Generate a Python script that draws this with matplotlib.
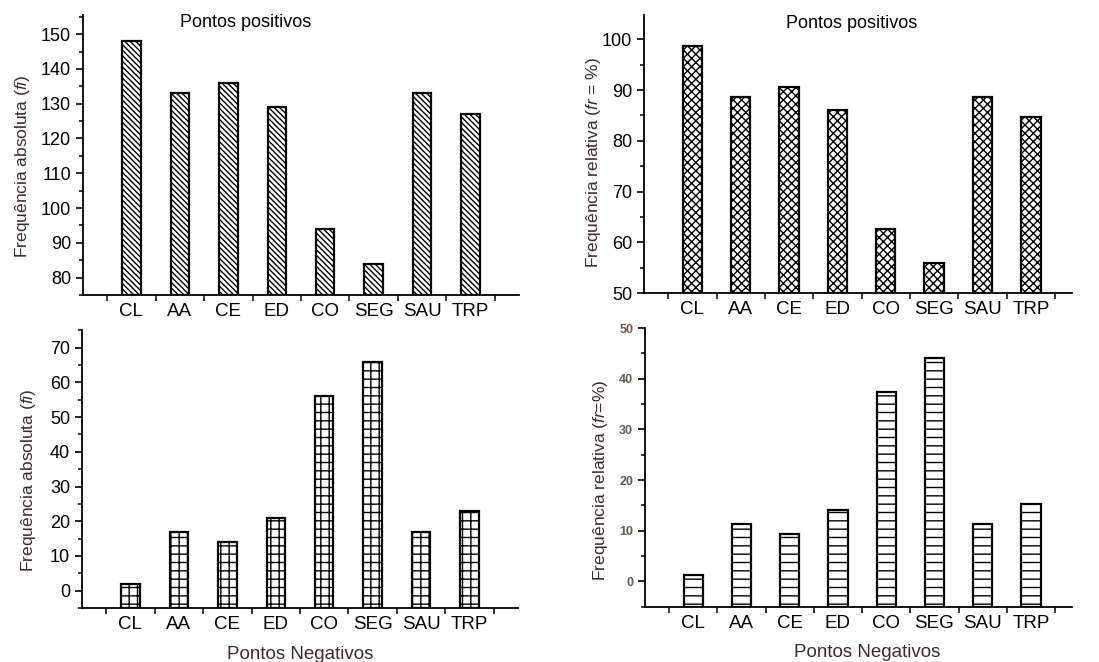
import matplotlib
matplotlib.use('Agg')
import matplotlib.pyplot as plt
from matplotlib.ticker import MultipleLocator, FixedLocator

plt.rcParams['font.family'] = ['Liberation Sans', 'DejaVu Sans']
plt.rcParams['mathtext.fontset'] = 'custom'
plt.rcParams['mathtext.it'] = 'Liberation Sans:italic'
plt.rcParams['mathtext.rm'] = 'Liberation Sans'
plt.rcParams['hatch.linewidth'] = 1.0

categorias = ['CL', 'AA', 'CE', 'ED', 'CO', 'SEG', 'SAU', 'TRP']

# pontos positivos
pos_abs = [148, 133, 136, 129, 94, 84, 133, 127]
pos_rel = [98.7, 88.7, 90.7, 86.0, 62.7, 56.0, 88.7, 84.7]
# pontos negativos
neg_abs = [2, 17, 14, 21, 56, 66, 17, 23]
neg_rel = [1.3, 11.3, 9.3, 14.0, 37.3, 44.0, 11.3, 15.3]

lab_cor = '#3d2b2b'
x = list(range(1, len(categorias) + 1))

fig = plt.figure(figsize=(10.99, 6.62), dpi=100)

def painel(rect, vals, ylim, xmax, hatch, larg, ylabel, lab_xy, major, tick_fs=13,
           tick_cor='black', tick_bold=False):
    ax = fig.add_axes(rect)
    ax.bar(x, [v - ylim[0] for v in vals], bottom=ylim[0], width=larg,
           color='white', edgecolor='black', linewidth=1.6, hatch=hatch)
    ax.set_xlim(0, xmax)
    ax.set_ylim(*ylim)
    ax.spines['top'].set_visible(False)
    ax.spines['right'].set_visible(False)
    ax.spines['left'].set_linewidth(1.3)
    ax.spines['bottom'].set_linewidth(1.3)
    ax.set_xticks(x)
    ax.set_xticklabels(categorias, fontsize=13.5)
    ax.xaxis.set_minor_locator(FixedLocator([i + 0.5 for i in range(0, 9)]))
    ax.tick_params(axis='x', which='major', length=0, pad=6)
    ax.tick_params(axis='x', which='minor', length=4, width=1.1, direction='out')
    ax.yaxis.set_major_locator(MultipleLocator(major))
    ax.yaxis.set_minor_locator(MultipleLocator(major / 2))
    ax.tick_params(axis='y', which='major', length=5, width=1.2, direction='out',
                   labelsize=tick_fs, labelcolor=tick_cor)
    ax.tick_params(axis='y', which='minor', length=3, width=1.1, direction='out')
    if tick_bold:
        for t in ax.get_yticklabels():
            t.set_fontweight('bold')
    ax.set_ylabel(ylabel, fontsize=12.5, color=lab_cor)
    ax.yaxis.set_label_coords(*lab_xy)
    return ax

ax1 = painel([0.0755, 0.5544, 0.3967, 0.4229], pos_abs, (75, 155.5), 9, '\\\\\\\\\\\\', 0.38,
             r'Frequência absoluta ($\mathit{fi}$)', (-0.117, 0.46), 10)
ax1.text(0.372, 0.975, 'Pontos positivos', transform=ax1.transAxes, ha='center',
         va='center', fontsize=13)

ax2 = painel([0.586, 0.5574, 0.3894, 0.4199], pos_rel, (50, 104.8), 8.85, 'xxxx', 0.4,
             r'Frequência relativa ($\mathit{fr}$ = %)', (-0.096, 0.468), 10)
ax2.text(0.486, 0.971, 'Pontos positivos', transform=ax2.transAxes, ha='center',
         va='center', fontsize=13)

ax3 = painel([0.0746, 0.0816, 0.3967, 0.4199], neg_abs, (-5, 75.1), 9, '++', 0.38,
             r'Frequência absoluta ($\mathit{fi}$)', (-0.10, 0.46), 10)
ax3.set_xlabel('Pontos Negativos', fontsize=13.5, color=lab_cor)
ax3.xaxis.set_label_coords(0.5, -0.135)

ax4 = painel([0.5869, 0.0835, 0.3885, 0.421], neg_rel, (-5, 50), 8.85, '--', 0.4,
             r'Frequência relativa ($\mathit{fr}$=%)', (-0.082, 0.455), 10,
             tick_fs=9, tick_cor='#6b5a48', tick_bold=True)
ax4.set_xlabel('Pontos Negativos', fontsize=13.5, color=lab_cor)
ax4.xaxis.set_label_coords(0.52, -0.135)

plt.savefig('out.png', dpi=100)
